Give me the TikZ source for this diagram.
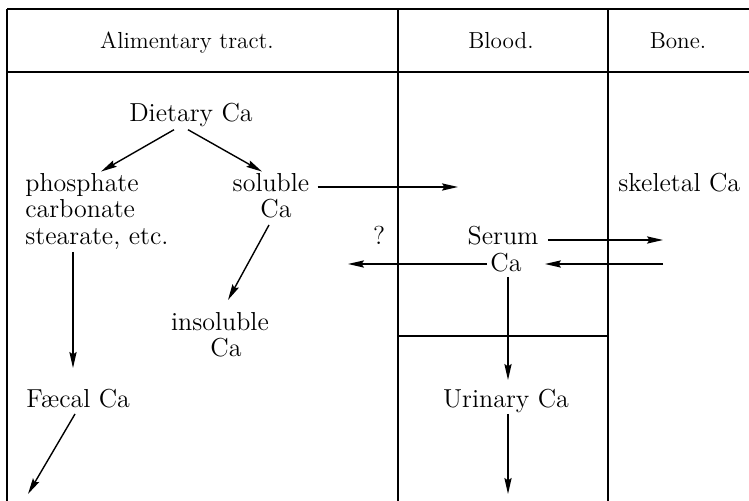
\documentclass[tikz,border=0pt]{standalone}
\usepackage{fontspec}
\usetikzlibrary{arrows.meta,calc}
\tikzset{
  frame/.style={line width=0.75pt},
  arr/.style={line width=0.7pt,-{Stealth[length=8pt,width=3.6pt,inset=1.2pt]}},
  body/.style={inner sep=0pt,font=\fontsize{13}{15}\selectfont},
  head/.style={inner sep=0pt,font=\fontsize{11.6}{13}\selectfont}
}
\begin{document}
\begin{tikzpicture}[x=0.5pt,y=-0.5pt]
\useasboundingbox (0,0) rectangle (749,501);
% frame
\draw[frame] (7,9) -- (749,9);
\draw[frame] (7,72) -- (749,72);
\draw[frame] (7,9) -- (7,501);
\draw[frame] (398,9) -- (398,501);
\draw[frame] (608,9) -- (608,501);
\draw[frame] (398,336) -- (608,336);
% headers
\node[head,anchor=base] (h1) at (187,49) {Alimentary tract.};
\node[head,anchor=base] (h2) at (501,49) {Blood.};
\node[head,anchor=base] (h3) at (678,49) {Bone.};
% body texts
\node[body,anchor=base] (diet) at (191,122) {Dietary Ca};
\node[body,anchor=base west] (phos1) at (25,192) {phosphate};
\node[body,anchor=base west] (phos2) at (25,218) {carbonate};
\node[body,anchor=base west] (phos3) at (25,245) {stearate, etc.};
\node[body,anchor=base] (sol1) at (271,192) {soluble};
\node[body,anchor=base] (sol2) at (276,218) {Ca};
\node[body,anchor=base west] (skel) at (618,192) {skeletal Ca};
\node[body,anchor=base] (serum1) at (503,245) {Serum};
\node[body,anchor=base] (serum2) at (506,272) {Ca};
\node[body,anchor=base] (q) at (379,245) {?};
\node[body,anchor=base] (insol1) at (220,331) {insoluble};
\node[body,anchor=base] (insol2) at (226,357) {Ca};
\node[body,anchor=base west] (faecal) at (26,408) {F\ae cal Ca};
\node[body,anchor=base] (urin) at (506,408) {Urinary Ca};
% free ends
\coordinate (c1) at (458,187);
\coordinate (c2) at (663,240);
\coordinate (c3) at (663,264);
\coordinate (c4) at (348,264);
\coordinate (c6) at (28,494);
\coordinate (c7) at (508,494);
% connectors
\draw[arr] ($(diet.south)+(-17,2)$) -- ($(phos1.north)+(19,-2)$);
\draw[arr] ($(diet.south)+(-3,2)$) -- ($(sol1.north)+(-9,-2)$);
\draw[arr] ($(sol1.base east)+(8,-5)$) -- (c1);
\draw[arr] ($(serum1.base east)+(9,-5)$) -- (c2);
\draw[arr] (c3) -- ($(serum2.base east)+(23,-8)$);
\draw[arr] ($(serum2.base west)+(-3,-8)$) -- (c4);
\draw[arr] ($(phos3.base west)+(48,7)$) -- ($(faecal.base west)+(47,-40)$);
\draw[arr] ($(sol2.base)+(-7,7)$) -- ($(insol1.base)+(8,-31)$);
\draw[arr] ($(serum2.base)+(2,5)$) -- ($(urin.base)+(2,-28)$);
\draw[arr] ($(faecal.base west)+(49,6)$) -- (c6);
\draw[arr] ($(urin.base)+(2,6)$) -- (c7);
\end{tikzpicture}
\end{document}
